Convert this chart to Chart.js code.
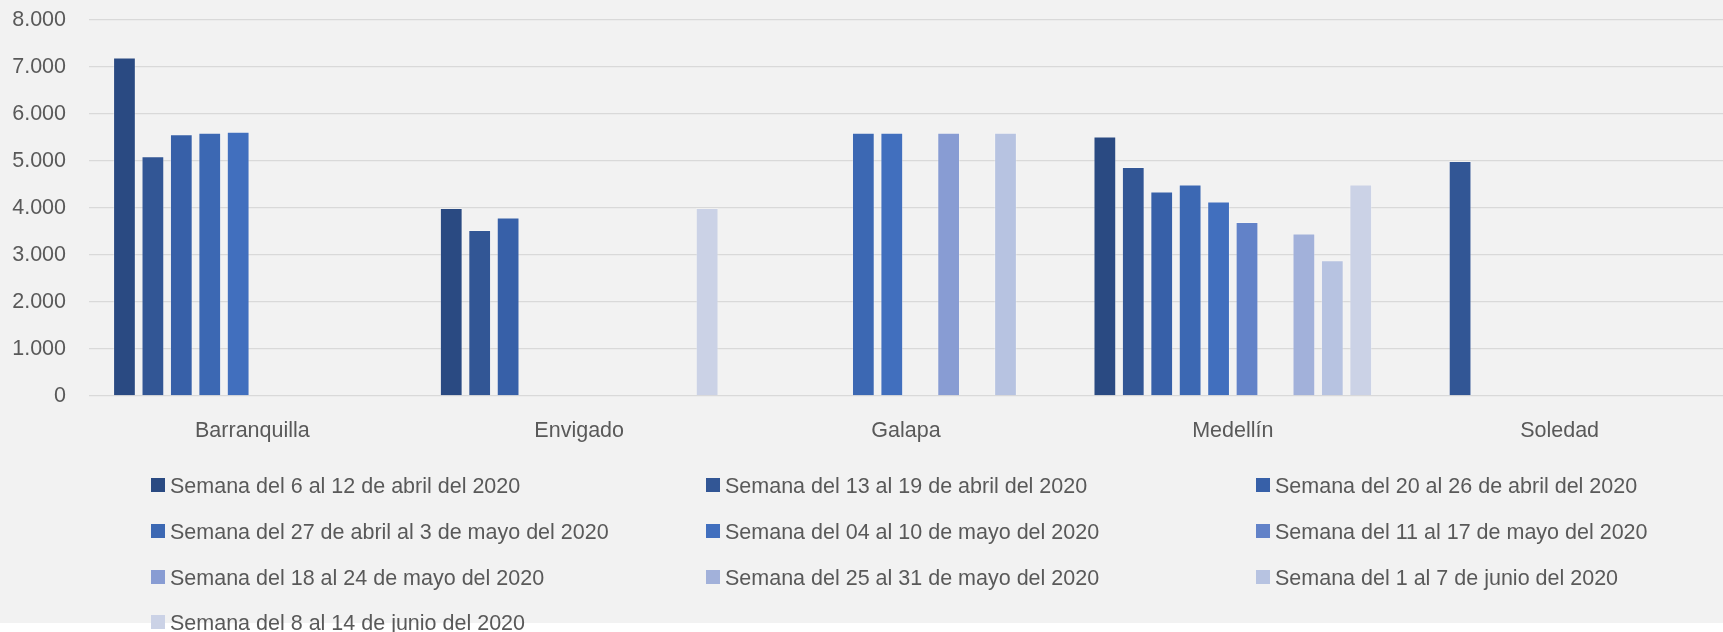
<!DOCTYPE html>
<html>
<head>
<meta charset="utf-8">
<script src="https://cdn.jsdelivr.net/npm/chart.js@4/dist/chart.umd.min.js"></script>
<style>
    body { margin: 0; background: #ffffff; }
    canvas { display: block; }
</style>
</head>
<body>
<canvas id="weeksChart" width="1723" height="632"></canvas>
<script>
// Data
var cities = ['Barranquilla', 'Envigado', 'Galapa', 'Medellín', 'Soledad'];
var weeks = [
    'Semana del 6 al 12 de abril del 2020',
    'Semana del 13 al 19 de abril del 2020',
    'Semana del 20 al 26 de abril del 2020',
    'Semana del 27 de abril al 3 de mayo del 2020',
    'Semana del 04 al 10 de mayo del 2020',
    'Semana del 11 al 17 de mayo del 2020',
    'Semana del 18 al 24 de mayo del 2020',
    'Semana del 25 al 31 de mayo del 2020',
    'Semana del 1 al 7 de junio del 2020',
    'Semana del 8 al 14 de junio del 2020'
];
var week1 = [7200, 4000, null, 5520, null];
var week2 = [5100, 3530, null, 4870, 5000];
var week3 = [5570, 3800, null, 4350, null];
var week4 = [5600, null, 5600, 4500, null];
var week5 = [5620, null, 5600, 4140, null];
var week6 = [null, null, null, 3700, null];
var week7 = [null, null, 5600, null, null];
var week8 = [null, null, null, 3460, null];
var week9 = [null, null, 5600, 2890, null];
var week10 = [null, 4000, null, 4500, null];
var yTickLabels = ['0', '1.000', '2.000', '3.000', '4.000', '5.000', '6.000', '7.000', '8.000'];

var seriesValues = [week1, week2, week3, week4, week5, week6, week7, week8, week9, week10];
var colors = ['#2a4a82', '#325695', '#3760a8', '#3c68b3', '#416fbe',
              '#6282c8', '#889cd3', '#a2b1da', '#b7c3e1', '#cbd2e6'];
var textColor = '#595959';
var fontFamily = "'Liberation Sans', Arial, sans-serif";
var fontSize = 21.5;

// Grey chart background, ends a little above the bottom edge
var backgroundPlugin = {
    id: 'greyBackground',
    beforeDraw: function (chart) {
        var c = chart.ctx;
        c.save();
        c.fillStyle = '#f2f2f2';
        c.fillRect(0, 0, chart.width, 623);
        c.restore();
    }
};

// Excel style legend laid out in fixed columns
var legendPlugin = {
    id: 'gridLegend',
    afterDraw: function (chart) {
        var c = chart.ctx;
        var colX = [151, 706, 1256];
        var rowY = [485, 531, 577, 622];
        c.save();
        c.font = fontSize + 'px ' + fontFamily;
        c.textAlign = 'left';
        c.textBaseline = 'alphabetic';
        chart.data.datasets.forEach(function (ds, i) {
            var x = colX[i % 3];
            var y = rowY[Math.floor(i / 3)];
            c.fillStyle = ds.backgroundColor;
            c.fillRect(x, y - 7, 14, 14);
            c.fillStyle = textColor;
            c.fillText(ds.label, x + 19, y + 7.5);
        });
        c.restore();
    }
};

var datasets = weeks.map(function (w, i) {
    return {
        label: w,
        data: seriesValues[i],
        backgroundColor: colors[i],
        borderColor: 'rgba(255, 255, 255, 0.25)',
        borderWidth: 1,
        categoryPercentage: 0.87,
        barPercentage: 0.8
    };
});

var ctx = document.getElementById('weeksChart').getContext('2d');
var chart = new Chart(ctx, {
    type: 'bar',
    data: {
        labels: cities,
        datasets: datasets
    },
    options: {
        responsive: false,
        animation: false,
        layout: {
            padding: { top: 20, left: 0, right: 0, bottom: 0 }
        },
        plugins: {
            legend: { display: false },
            tooltip: { enabled: false }
        },
        scales: {
            x: {
                grid: { display: false, drawTicks: false },
                border: { display: false },
                ticks: {
                    color: textColor,
                    font: { family: fontFamily, size: fontSize },
                    padding: 22,
                    maxRotation: 0
                },
                afterFit: function (scale) { scale.height = 236; }
            },
            y: {
                min: 0,
                max: 8000,
                grid: { color: '#d9d9d9', lineWidth: 1.3, drawTicks: false },
                border: { display: false },
                ticks: {
                    stepSize: 1000,
                    color: textColor,
                    font: { family: fontFamily, size: fontSize },
                    padding: 23,
                    callback: function (value, index) { return yTickLabels[index]; }
                },
                afterFit: function (scale) {
                    scale.width = 89;
                    scale.paddingTop = 0;
                    scale.paddingBottom = 0;
                }
            }
        }
    },
    plugins: [backgroundPlugin, legendPlugin]
});
</script>
</body>
</html>
